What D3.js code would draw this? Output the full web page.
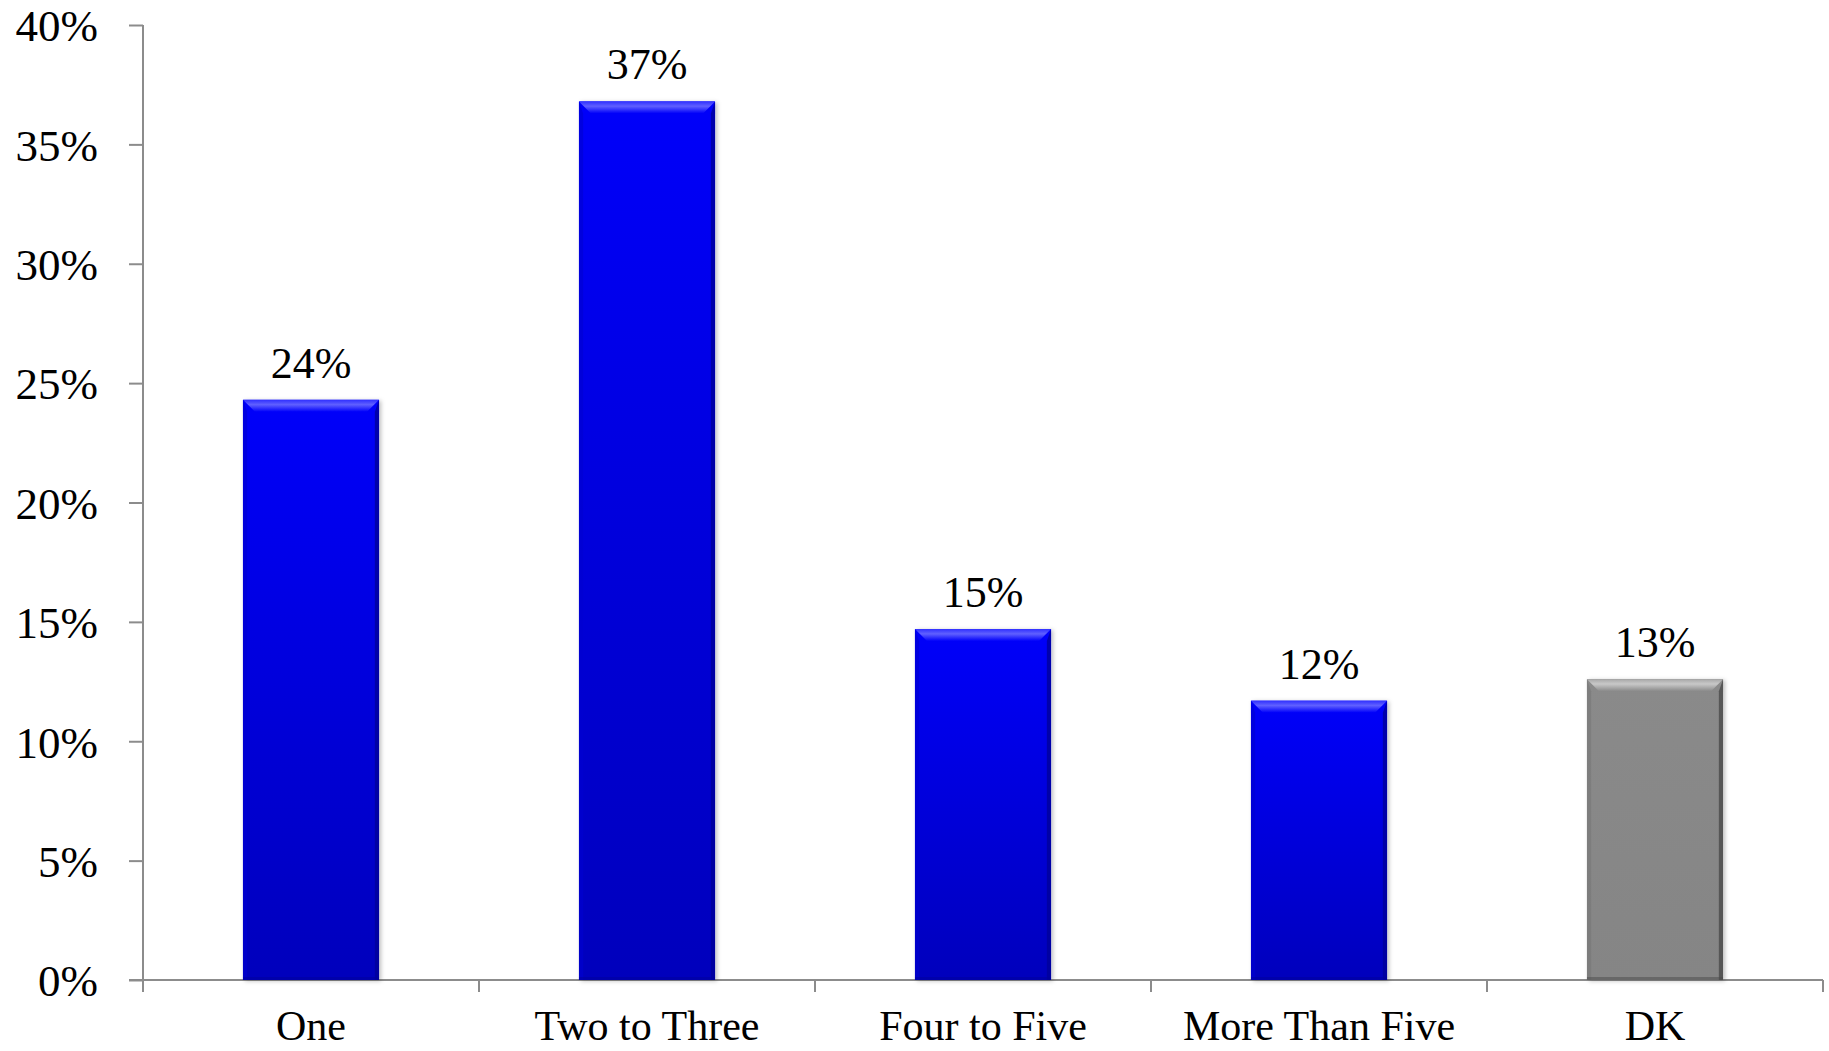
<!DOCTYPE html>
<html>
<head>
<meta charset="utf-8">
<script src="https://cdn.jsdelivr.net/npm/d3@7"></script>
<style>
  html, body { margin: 0; padding: 0; background: #fff; }
  svg { display: block; }
  text { font-family: "Liberation Serif", "Times New Roman", serif; fill: #000; }
</style>
</head>
<body>
<svg id="chart" width="1829" height="1051"></svg>
<script>
const categories = ["One", "Two to Three", "Four to Five", "More Than Five", "DK"];
const values = [24.3, 36.8, 14.7, 11.7, 12.6];
const barKinds = ["blue", "blue", "blue", "blue", "gray"];
const yTicks = [0, 5, 10, 15, 20, 25, 30, 35, 40];

const svg = d3.select("#chart");
const x0 = 143, x1 = 1823, yTop = 25, yBot = 980;

const x = d3.scaleBand().domain(categories).range([x0, x1])
  .paddingInner(0.595).paddingOuter(0.2975);
const y = d3.scaleLinear().domain([0, 40]).range([yBot, yTop]);

const defs = svg.append("defs");
const palettes = {
  blue: { top: "#0000fa", bot: "#0606bc", hi: "#6060ff", hi2: "#3030ff", dark: "#00009a", side: "#0000d0" },
  gray: { top: "#8a8a8a", bot: "#858585", hi: "#c8c8c8", hi2: "#a8a8a8", dark: "#4a4a4a", side: "#777777" }
};
Object.entries(palettes).forEach(([k, p]) => {
  const g = defs.append("linearGradient").attr("id", "body-" + k)
    .attr("x1", 0).attr("y1", 0).attr("x2", 0).attr("y2", 1);
  g.append("stop").attr("offset", "0%").attr("stop-color", p.top);
  g.append("stop").attr("offset", "100%").attr("stop-color", p.bot);
  const t = defs.append("linearGradient").attr("id", "top-" + k)
    .attr("x1", 0).attr("y1", 0).attr("x2", 0).attr("y2", 1);
  t.append("stop").attr("offset", "0%").attr("stop-color", p.hi2);
  t.append("stop").attr("offset", "40%").attr("stop-color", p.hi);
  t.append("stop").attr("offset", "100%").attr("stop-color", p.top);
});
const shadow = defs.append("filter").attr("id", "shadow")
  .attr("x", "-10%").attr("y", "-10%").attr("width", "130%").attr("height", "130%");
shadow.append("feDropShadow").attr("dx", 2).attr("dy", 1).attr("stdDeviation", 2)
  .attr("flood-color", "#000").attr("flood-opacity", 0.25);

// Axes
const axisColor = "#8c8c8c";
const yAxis = d3.axisLeft(y).tickValues(yTicks).tickSize(14).tickPadding(0).tickFormat(d => d + "%");
const gy = svg.append("g").attr("transform", `translate(${x0},0)`).call(yAxis);
gy.select(".domain").attr("stroke", axisColor).attr("stroke-width", 2)
  .attr("d", `M0,${yTop}V${yBot + 12}`);
gy.selectAll(".tick line").attr("stroke", axisColor).attr("stroke-width", 2);
gy.selectAll(".tick text").attr("x", -45).attr("dy", "0.35em")
  .style("font-size", "45px").style("font-family", "Liberation Serif");

// X axis line and boundary ticks
const step = x.step();
const boundaries = d3.range(categories.length + 1).map(i => x0 + i * step);
svg.append("line").attr("x1", x0 - 14).attr("x2", x1).attr("y1", yBot).attr("y2", yBot)
  .attr("stroke", axisColor).attr("stroke-width", 2);
svg.selectAll(".xtick").data(boundaries).join("line").attr("class", "xtick")
  .attr("x1", d => d).attr("x2", d => d).attr("y1", yBot).attr("y2", yBot + 12)
  .attr("stroke", axisColor).attr("stroke-width", 2);

// Bars
const bw = x.bandwidth();
const bev = 12;
const bars = svg.selectAll(".bar").data(categories).join("g").attr("class", "bar");
bars.each(function(c, i) {
  const g = d3.select(this);
  const p = palettes[barKinds[i]];
  const bx = x(c), by = y(values[i]), bh = yBot - y(values[i]);
  g.append("rect").attr("x", bx).attr("y", by).attr("width", bw).attr("height", bh)
    .attr("fill", `url(#body-${barKinds[i]})`).attr("filter", "url(#shadow)");
  g.append("path").attr("d", `M${bx},${by}H${bx + bw}L${bx + bw - bev},${by + bev}H${bx + bev}Z`)
    .attr("fill", `url(#top-${barKinds[i]})`);
  g.append("path").attr("d", `M${bx},${by}L${bx + bev * 0.35},${by + bev}V${yBot}H${bx}Z`)
    .attr("fill", p.side).attr("opacity", 0.6);
  g.append("path").attr("d", `M${bx + bw},${by}L${bx + bw - bev * 0.35},${by + bev}V${yBot}H${bx + bw}Z`)
    .attr("fill", p.dark).attr("opacity", 0.8);
  g.append("rect").attr("x", bx).attr("y", yBot - 3).attr("width", bw).attr("height", 3)
    .attr("fill", p.dark).attr("opacity", 0.5);
});

// Value labels
svg.selectAll(".vlabel").data(categories).join("text").attr("class", "vlabel")
  .attr("x", c => x(c) + bw / 2)
  .attr("y", (c, i) => y(values[i]) - 22)
  .attr("text-anchor", "middle")
  .style("font-size", "44px")
  .text((c, i) => Math.round(values[i]) + "%");

// Category labels
svg.selectAll(".clabel").data(categories).join("text").attr("class", "clabel")
  .attr("x", c => x(c) + bw / 2)
  .attr("y", yBot + 60)
  .attr("text-anchor", "middle")
  .style("font-size", "42px")
  .text(c => c);
</script>
</body>
</html>
